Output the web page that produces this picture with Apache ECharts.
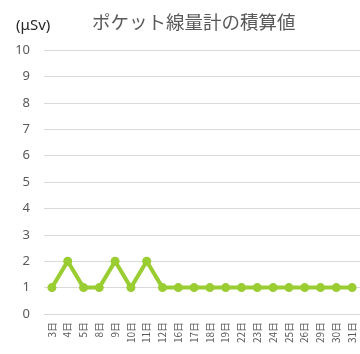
<!DOCTYPE html>
<html>
<head>
<meta charset="utf-8">
<script src="https://cdn.jsdelivr.net/npm/echarts@6/dist/echarts.min.js"></script>
<style>
  html, body { margin: 0; padding: 0; background: #fff; }
  #chart { width: 360px; height: 354px; }
</style>
</head>
<body>
<div id="chart"></div>
<script>
const days = ["3日", "4日", "5日", "8日", "9日", "10日", "11日", "12日", "16日", "17日",
  "18日", "19日", "22日", "23日", "24日", "25日", "26日", "29日", "30日", "31日"];
const doseValues = [1, 2, 1, 1, 2, 1, 2, 1, 1, 1, 1, 1, 1, 1, 1, 1, 1, 1, 1, 1];

const chart = echarts.init(document.getElementById("chart"));

const option = {
  animation: false,
  title: [
    {
      text: "ポケット線量計の積算値",
      left: 87,
      top: 8,
      textStyle: {
        fontFamily: "Noto Sans CJK JP",
        fontSize: 18.5,
        fontWeight: "normal",
        color: "#595959",
      },
    },
    {
      text: "(μSv)",
      left: 11,
      top: 13,
      textStyle: {
        fontFamily: "Noto Sans",
        fontSize: 15,
        fontWeight: "normal",
        color: "#262626",
      },
    },
  ],
  grid: {
    left: 44,
    right: 0,
    top: 50,
    bottom: 40,
  },
  xAxis: {
    type: "category",
    data: days,
    axisLine: { lineStyle: { color: "#d9d9d9" } },
    axisTick: { show: false },
    axisLabel: {
      rotate: 90,
      interval: 0,
      margin: 8,
      fontSize: 10,
      color: "#595959",
      fontFamily: "Noto Sans CJK JP",
    },
  },
  yAxis: {
    type: "value",
    min: 0,
    max: 10,
    interval: 1,
    axisLine: { show: false },
    axisTick: { show: false },
    axisLabel: {
      color: "#595959",
      fontSize: 13,
      margin: 14,
      fontFamily: "Noto Sans",
    },
    splitLine: { lineStyle: { color: "#d9d9d9" } },
  },
  series: [
    {
      type: "line",
      data: doseValues,
      symbol: "circle",
      symbolSize: 9,
      itemStyle: { color: "#9acd32" },
      lineStyle: { color: "#9acd32", width: 4 },
    },
  ],
};

chart.setOption(option);
</script>
</body>
</html>
